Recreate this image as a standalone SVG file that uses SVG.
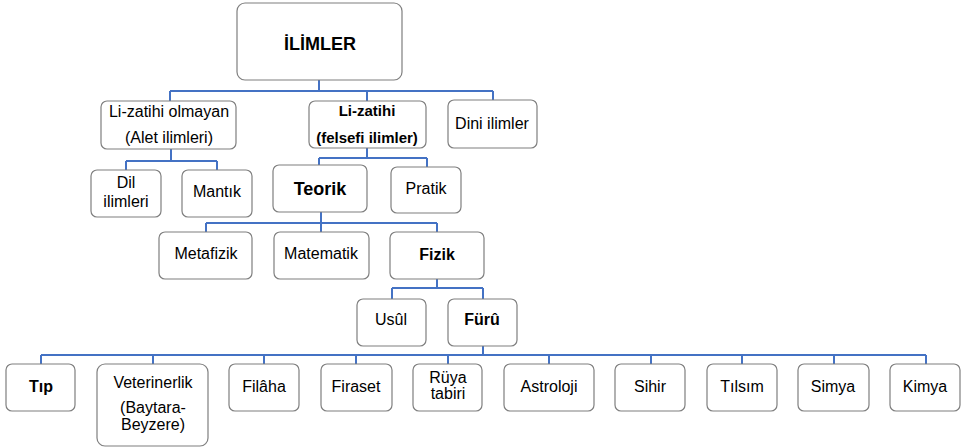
<svg xmlns="http://www.w3.org/2000/svg" width="963" height="448" viewBox="0 0 963 448">
<style>
.box{fill:#fff;stroke:#7f7f7f;stroke-width:1.2}
.t{font-family:"Liberation Sans",Arial,sans-serif;font-size:16px;fill:#000;text-anchor:middle}
.b{font-weight:bold}
.s{font-size:15px}
.c{fill:none;stroke:#4472C4;stroke-width:2}
</style>
<rect width="963" height="448" fill="#fff"/>
<g id="connectors">
<path class="c" d="M319 80V91M170 91H493M170 91V101M367 91V101M493 91V100"/>
<path class="c" d="M171 149V161M126 161H217M126 161V170M217 161V170"/>
<path class="c" d="M367 148V158M319 158H427M319 158V165M427 158V167"/>
<path class="c" d="M321 212V223M206 223H437M206 223V232M321 223V232M437 223V232"/>
<path class="c" d="M437 279V288M392 288H483M392 288V299M483 288V299"/>
<path class="c" d="M483 346V355M41 355H926M41 355V364M153 355V364M264 355V364M356 355V364M448 355V364M549 355V364M651 355V364M742 355V364M834 355V364M926 355V364"/>
</g>
<g id="ilimler"><rect class="box" x="237" y="3" width="165" height="77" rx="8"/><text class="t b" x="320" y="50" style="font-size:18px">İLİMLER</text></g>
<g id="li-zatihi-olmayan"><rect class="box" x="101" y="101" width="135" height="48" rx="6"/><text class="t" x="169" y="117">Li-zatihi olmayan</text><text class="t" x="169" y="143">(Alet ilimleri)</text></g>
<g id="li-zatihi"><rect class="box" x="309" y="101" width="117" height="47" rx="6"/><text class="t b s" x="367" y="116">Li-zatihi</text><text class="t b s" x="367" y="143">(felsefi ilimler)</text></g>
<g id="dini"><rect class="box" x="448" y="100" width="89" height="48" rx="6"/><text class="t" x="492" y="129">Dini ilimler</text></g>
<g id="dil"><rect class="box" x="91" y="170" width="70" height="47" rx="6"/><text class="t" x="126" y="188">Dil</text><text class="t" x="126" y="207">ilimleri</text></g>
<g id="mantik"><rect class="box" x="182" y="170" width="70" height="47" rx="6"/><text class="t" x="217" y="197">Mantık</text></g>
<g id="teorik"><rect class="box" x="273" y="165" width="94" height="47" rx="6"/><text class="t b" x="320" y="195" style="font-size:18px">Teorik</text></g>
<g id="pratik"><rect class="box" x="391" y="167" width="70" height="46" rx="6"/><text class="t" x="426" y="194">Pratik</text></g>
<g id="metafizik"><rect class="box" x="159" y="232" width="93" height="47" rx="6"/><text class="t" x="206" y="259">Metafizik</text></g>
<g id="matematik"><rect class="box" x="274" y="232" width="95" height="47" rx="6"/><text class="t" x="321" y="259">Matematik</text></g>
<g id="fizik"><rect class="box" x="390" y="232" width="94" height="47" rx="6"/><text class="t b" x="437" y="260">Fizik</text></g>
<g id="usul"><rect class="box" x="357" y="299" width="69" height="47" rx="6"/><text class="t" x="391" y="325">Usûl</text></g>
<g id="furu"><rect class="box" x="448" y="299" width="69" height="47" rx="6"/><text class="t b" x="482" y="325">Fürû</text></g>
<g id="tip"><rect class="box" x="6" y="364" width="69" height="47" rx="6"/><text class="t b" x="41" y="392">Tıp</text></g>
<g id="veterinerlik"><rect class="box" x="97" y="364" width="111" height="82" rx="8"/><text class="t" x="153" y="388">Veterinerlik</text><text class="t" x="153" y="413">(Baytara-</text><text class="t" x="153" y="430">Beyzere)</text></g>
<g id="filaha"><rect class="box" x="229" y="364" width="70" height="47" rx="6"/><text class="t" x="264" y="392">Filâha</text></g>
<g id="firaset"><rect class="box" x="321" y="364" width="71" height="47" rx="6"/><text class="t" x="356" y="392">Firaset</text></g>
<g id="ruya"><rect class="box" x="413" y="364" width="69" height="47" rx="6"/><text class="t" x="448" y="383">Rüya</text><text class="t" x="448" y="399">tabiri</text></g>
<g id="astroloji"><rect class="box" x="504" y="364" width="90" height="47" rx="6"/><text class="t" x="549" y="392">Astroloji</text></g>
<g id="sihir"><rect class="box" x="615" y="364" width="70" height="47" rx="6"/><text class="t" x="650" y="392">Sihir</text></g>
<g id="tilsim"><rect class="box" x="707" y="364" width="70" height="47" rx="6"/><text class="t" x="742" y="392">Tılsım</text></g>
<g id="simya"><rect class="box" x="798" y="364" width="71" height="47" rx="6"/><text class="t" x="833" y="392">Simya</text></g>
<g id="kimya"><rect class="box" x="890" y="364" width="70" height="47" rx="6"/><text class="t" x="925" y="392">Kimya</text></g>
</svg>
